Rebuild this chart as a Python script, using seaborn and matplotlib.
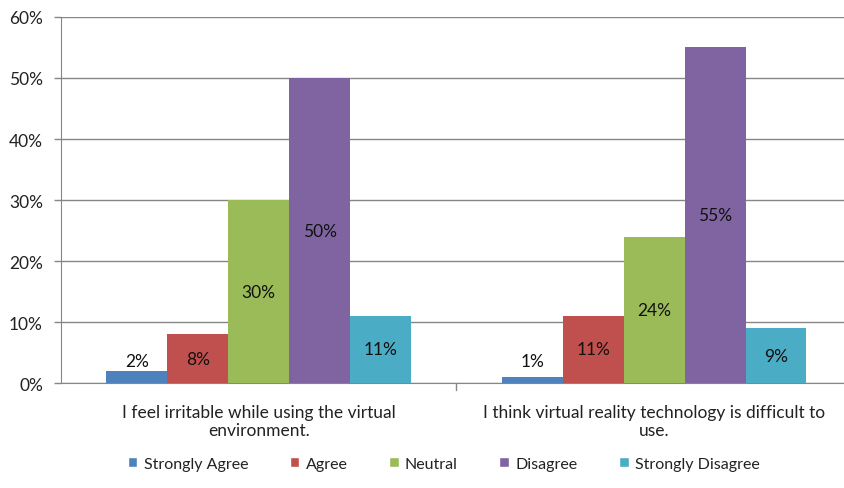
import matplotlib
matplotlib.use("Agg")
import matplotlib.pyplot as plt
import seaborn as sns
import pandas as pd
from matplotlib.patches import Patch

statements = ["I feel irritable while using the virtual\nenvironment.",
              "I think virtual reality technology is difficult to\nuse."]
responses = ["Strongly Agree", "Agree", "Neutral", "Disagree", "Strongly Disagree"]
pct_irritable = [2, 8, 30, 50, 11]
pct_difficult = [1, 11, 24, 55, 9]
colors = ["#4F81BD", "#C0504D", "#9BBB59", "#8064A2", "#4BACC6"]

rows = []
for r, a, b in zip(responses, pct_irritable, pct_difficult):
    rows.append({"statement": statements[0], "response": r, "pct": a})
    rows.append({"statement": statements[1], "response": r, "pct": b})
df = pd.DataFrame(rows)

sns.set_style("white")
plt.rcParams["font.family"] = ["Lato", "DejaVu Sans"]

fig = plt.figure(figsize=(8.45, 4.89), dpi=100)
ax = fig.add_axes([0.0722, 0.2147, 0.936, 0.7485])

sns.barplot(data=df, x="statement", y="pct", hue="response", order=statements,
            hue_order=responses, palette=colors, width=0.77, saturation=1,
            linewidth=0, legend=False, ax=ax, zorder=3)

# value labels
for cont, resp in zip(ax.containers, responses):
    for bar in cont:
        h = bar.get_height()
        y = max(h / 2, 3.6)
        ax.text(bar.get_x() + bar.get_width() / 2, y, f"{h:.0f}%",
                ha="center", va="center", fontsize=12.5, color="#111111", zorder=4)

ax.set_ylim(0, 60)
ax.set_yticks(range(0, 61, 10))
ax.set_yticklabels([f"{v}%" for v in range(0, 61, 10)], fontsize=12.5, color="#222222")
ax.set_xlim(-0.5, 1.5)
ax.set_xlabel("")
ax.set_ylabel("")
ax.tick_params(axis="x", labelsize=12.5, labelcolor="#222222", length=0, pad=15)
ax.tick_params(axis="y", length=5, color="#868686", width=1, left=True, pad=8)
ax.grid(axis="y", color="#868686", linewidth=1, zorder=0)
ax.set_axisbelow(True)
for s in ["top", "right"]:
    ax.spines[s].set_visible(False)
ax.spines["left"].set_color("#868686")
ax.spines["bottom"].set_color("#868686")
# category separator tick
ax.plot([0.5, 0.5], [0, -1.2], color="#868686", lw=1, clip_on=False)

handles = [Patch(facecolor=c, label=r) for c, r in zip(colors, responses)]
fig.legend(handles=handles, loc="center", bbox_to_anchor=(0.525, 0.05), ncol=5,
           frameon=False, fontsize=11.5, handlelength=0.6, handleheight=0.6,
           columnspacing=2.6, handletextpad=0.4, labelcolor="#222222")

fig.savefig("out.png", dpi=100, facecolor="white")
